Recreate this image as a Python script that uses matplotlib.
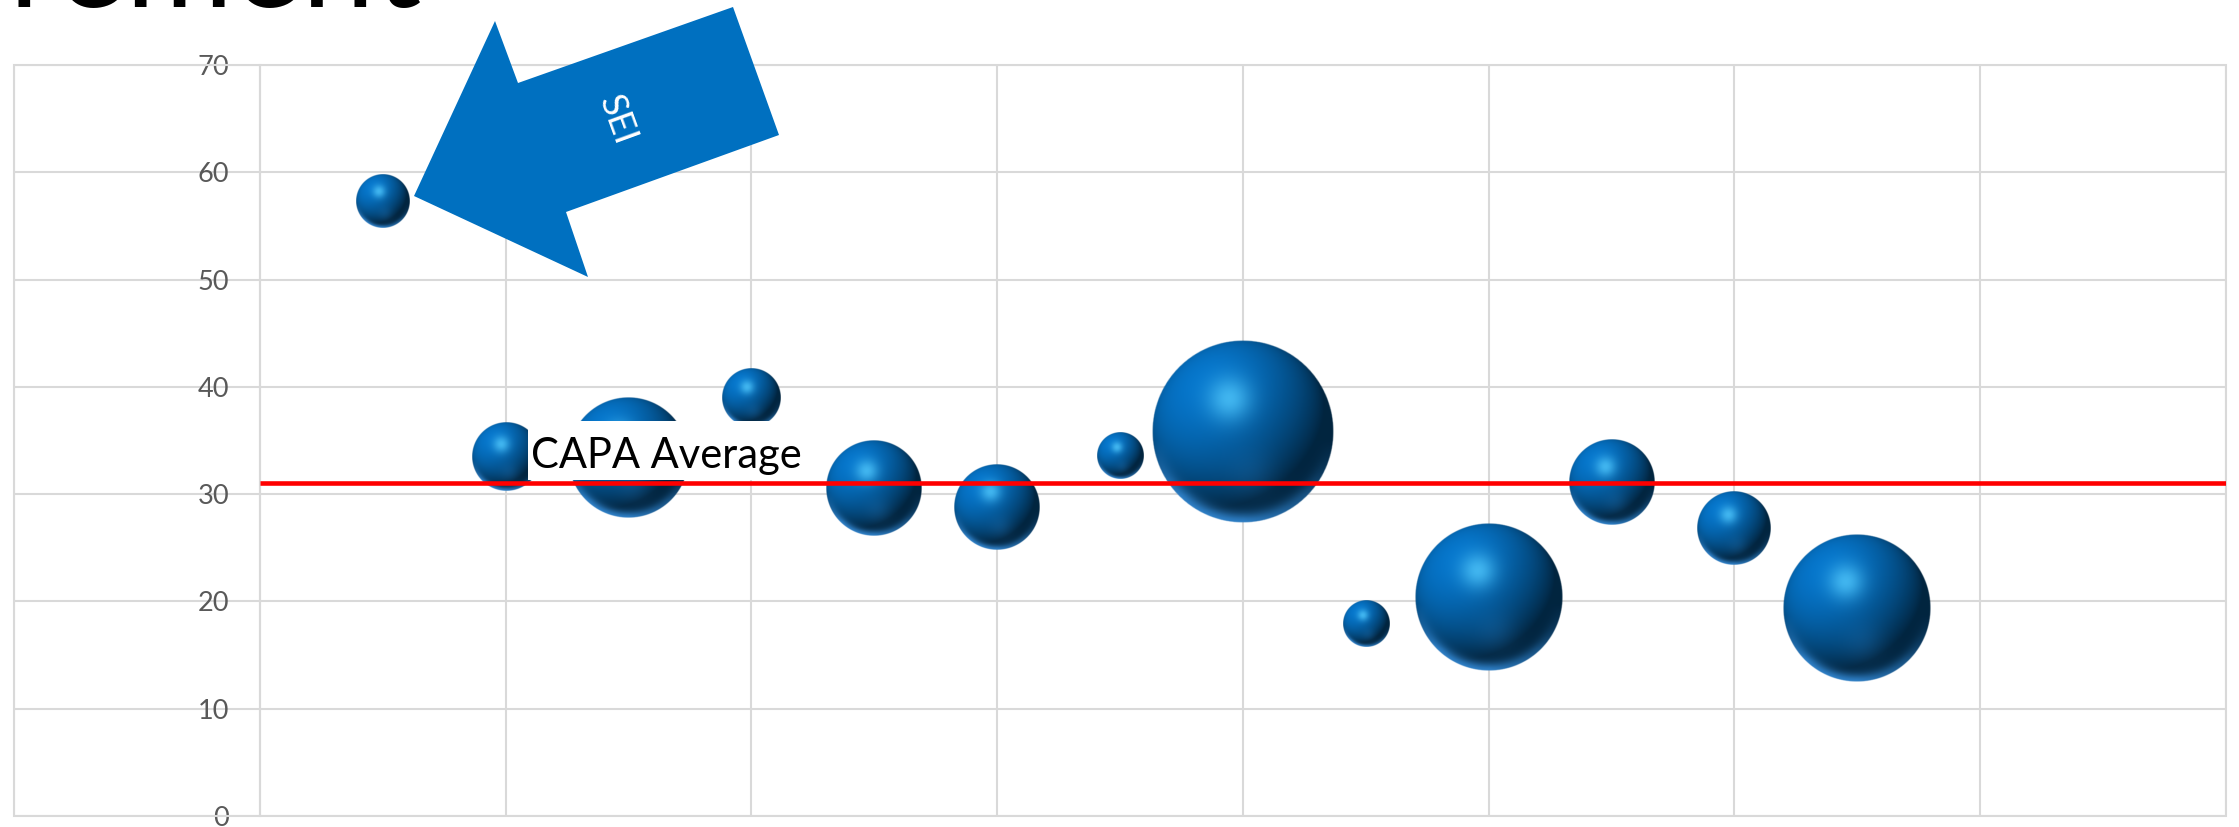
import numpy as np
import matplotlib
matplotlib.use("Agg")
import matplotlib.pyplot as plt
from matplotlib.patches import Polygon, Rectangle

plt.rcParams["font.family"] = ["Lato", "DejaVu Sans"]

# ---- data -------------------------------------------------------------
x_positions = [1, 2, 3, 4, 5, 6, 7, 8, 9, 10, 11, 12, 13]
y_values = [57.3, 33.5, 33.4, 39.0, 30.6, 28.8, 33.6, 35.8, 17.9, 20.4, 31.1, 26.8, 19.4]
bubble_sizes = [8.8, 14.0, 43.5, 10.2, 27.8, 22.3, 6.4, 100.0, 6.4, 66.1, 22.3, 16.5, 66.1]
capa_average = 31.0
capa_label = "CAPA Average"
y_ticks = [0, 10, 20, 30, 40, 50, 60, 70]
x_grid = [-2, 0, 2, 4, 6, 8, 10, 12, 14, 16]
callout_text = "SEI"
title_text = "Measurement"

# ---- figure / axes ----------------------------------------------------
W, H, DPI = 2239, 827, 100
fig = plt.figure(figsize=(W / DPI, H / DPI), dpi=DPI)
ax_left, ax_bottom, ax_w, ax_h = 14, 11, 2212, 751  # pixels
ax = fig.add_axes([ax_left / W, ax_bottom / H, ax_w / W, ax_h / H])

GRID = "#D9D9D9"
ax.set_xticks(x_grid)
ax.set_yticks(y_ticks)
ax.grid(True, color=GRID, lw=1.5)
ax.set_axisbelow(True)
ax.tick_params(axis="x", length=0, labelbottom=False)
ax.tick_params(axis="y", length=0, pad=22, labelsize=19.5, labelcolor="#595959")
ax.spines["left"].set_position(("data", 0))
ax.spines["left"].set_color(GRID)
ax.spines["left"].set_linewidth(1.5)
for side in ("top", "right", "bottom"):
    ax.spines[side].set_visible(False)
ax.add_patch(Rectangle((0, 0), 1, 1, transform=ax.transAxes, fill=False,
                       ec=GRID, lw=1.5, clip_on=False, zorder=1))


def sphere_image(n=320):
    t = np.linspace(-1, 1, n)
    u, v = np.meshgrid(t, -t)
    r2 = u ** 2 + v ** 2
    r = np.sqrt(r2)
    z = np.sqrt(np.clip(1 - r2, 0, 1))
    L = np.array([-0.45, 0.55, 0.70])
    L = L / np.linalg.norm(L)
    diff = np.clip(u * L[0] + v * L[1] + z * L[2], 0, 1)
    base = np.array([0.02, 0.44, 0.76])
    rgb = base[None, None, :] * (0.33 + 0.72 * diff[..., None])
    hl = np.exp(-((u + 0.15) ** 2 + (v - 0.36) ** 2) / (2 * 0.17 ** 2))
    rgb = rgb * (1 - 0.75 * hl[..., None]) + 0.75 * hl[..., None] * np.array([0.33, 0.80, 1.0])
    refl = np.exp(-((u - 0.1) ** 2 + (v + 0.5) ** 2) / (2 * 0.2 ** 2))
    rgb = rgb + 0.08 * refl[..., None] * np.array([0.4, 0.7, 1.0])
    rim = np.exp(-((1 - r) / 0.11) ** 2) * np.clip((-v - 0.1) / 0.6, 0, 1) * np.clip(1 - 0.7 * u, 0, 1)
    rgb = rgb * (1 - 0.8 * rim[..., None]) + 0.8 * rim[..., None] * np.array([0.22, 0.58, 0.90])
    alpha = np.clip((1 - r) * n / 2.5, 0, 1)
    return np.dstack([np.clip(rgb, 0, 1), alpha])


SPHERE = sphere_image()
max_radius_px = 91
px_per_x = ax_w / (x_grid[-1] - x_grid[0])
px_per_y = ax_h / (y_ticks[-1] - y_ticks[0])

for xi, yi, s in zip(x_positions, y_values, bubble_sizes):
    r_px = max_radius_px * np.sqrt(s / max(bubble_sizes))
    rx, ry = r_px / px_per_x, r_px / px_per_y
    ax.imshow(SPHERE, extent=[xi - rx, xi + rx, yi - ry, yi + ry],
              aspect="auto", interpolation="bilinear", zorder=2)

ax.set_xlim(x_grid[0], x_grid[-1])
ax.set_ylim(y_ticks[0], y_ticks[-1])

# average line with its label
ax.plot([0, x_grid[-1]], [capa_average, capa_average], color="#FF0000",
        lw=3.3, solid_capstyle="butt", zorder=3)
ax.add_patch(Rectangle((2.18, capa_average + 0.36), 2.43, 5.44, fc="white",
                       ec="none", zorder=4))
ax.text(2.21, capa_average + 1.45, capa_label, fontsize=30, color="black",
        ha="left", va="baseline", zorder=5)

# callout arrow pointing at the outlier
arrow_px = [(414, 196), (495, 21), (518, 83), (733, 7), (779, 135), (566, 212), (588, 277)]
fig.add_artist(Polygon([(px / W, 1 - py / H) for px, py in arrow_px], closed=True,
                       transform=fig.transFigure, fc="#0070C0", ec="none", zorder=6))
fig.text(617 / W, 1 - 120 / H, callout_text, rotation=-70, color="white",
         fontsize=26, ha="center", va="center", rotation_mode="anchor", zorder=7)

# slide title, mostly above the visible area
fig.text(421 / W, 1 - 7 / H, title_text, ha="right", va="baseline",
         fontsize=94, color="black")

fig.savefig("out.png", dpi=DPI)
